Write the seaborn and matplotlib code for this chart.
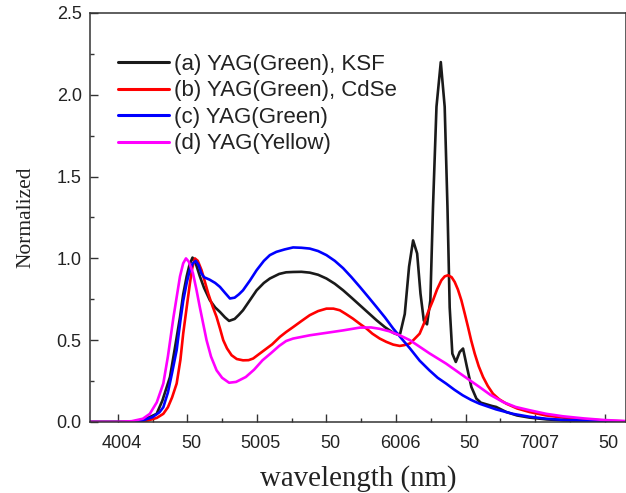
import numpy as np
import pandas as pd
import matplotlib
matplotlib.use("Agg")
import matplotlib.pyplot as plt
import matplotlib.transforms as mtransforms
import seaborn as sns
from matplotlib.ticker import MultipleLocator

# ---------------- data ----------------
labels = ["(a) YAG(Green), KSF", "(b) YAG(Green), CdSe", "(c) YAG(Green)", "(d) YAG(Yellow)"]
colors = ["#1a1a1a", "#ff0000", "#0000ff", "#ff00ff"]

x_a = [380, 410, 418, 423, 427.9, 432, 437.5, 441, 444.7, 447, 449.5, 451.5, 453.7, 456, 459, 462, 466.2, 470,
       473.4, 477, 480, 484, 487, 490, 495, 499.8, 505, 509.3, 516, 521, 526, 532, 538, 544, 550, 556, 562, 568,
       574, 580, 586, 592, 598, 601, 603, 606.3, 609.4, 612.3, 615.2, 617.6, 620, 622.3, 624.7, 626.6, 629.1,
       632.2, 635, 637, 638.6, 640.5, 643, 645.8, 648.2, 651, 654.2, 657.8, 661, 665, 669, 672, 676, 679.3, 687,
       696, 708, 720, 740, 765]
y_a = [0, 0, 0.015, 0.03, 0.05, 0.13, 0.275, 0.45, 0.64, 0.78, 0.89, 0.96, 1.005, 0.97, 0.89, 0.82, 0.744, 0.70,
       0.673, 0.64, 0.618, 0.63, 0.655, 0.683, 0.745, 0.805, 0.85, 0.877, 0.905, 0.915, 0.917, 0.918, 0.913, 0.90,
       0.877, 0.845, 0.805, 0.76, 0.714, 0.668, 0.622, 0.58, 0.545, 0.535, 0.54, 0.66, 0.95, 1.11, 1.03, 0.785,
       0.62, 0.597, 0.744, 1.315, 1.927, 2.20, 1.927, 1.315, 0.70, 0.418, 0.367, 0.428, 0.449, 0.336, 0.214,
       0.143, 0.118, 0.108, 0.098, 0.092, 0.075, 0.061, 0.04, 0.027, 0.016, 0.01, 0.005, 0.002]

x_b = [380, 415, 422, 428, 432.7, 436, 439, 442.3, 445, 447, 449.5, 451.8, 453.5, 455.4, 457.5, 460.2, 462.5,
       465, 468, 471, 473.5, 475.8, 478.5, 481.8, 485.5, 490, 494, 497.3, 502, 506.9, 511, 516.5, 521, 526, 532,
       538, 544, 550, 555, 559.6, 564, 569, 574, 578.8, 583, 588.3, 593, 598, 602.7, 606, 610, 613, 617, 620, 623,
       626.6, 629.5, 632.6, 635, 637.4, 640, 642.2, 644.5, 647, 649.5, 651.8, 654, 656.6, 659.5, 662.6, 666,
       669.7, 674, 679.3, 687, 696, 708, 720, 735, 756, 765]
y_b = [0, 0, 0.01, 0.025, 0.05, 0.09, 0.15, 0.235, 0.38, 0.54, 0.70, 0.846, 0.94, 1.0, 0.985, 0.928, 0.86,
       0.785, 0.71, 0.642, 0.57, 0.50, 0.45, 0.408, 0.385, 0.377, 0.378, 0.388, 0.418, 0.449, 0.475, 0.52, 0.55,
       0.58, 0.617, 0.653, 0.678, 0.693, 0.693, 0.683, 0.66, 0.632, 0.60, 0.571, 0.54, 0.51, 0.49, 0.473, 0.465,
       0.47, 0.48, 0.505, 0.54, 0.60, 0.67, 0.744, 0.81, 0.866, 0.89, 0.897, 0.885, 0.856, 0.81, 0.744, 0.66,
       0.58, 0.50, 0.418, 0.34, 0.275, 0.22, 0.173, 0.14, 0.112, 0.083, 0.061, 0.04, 0.027, 0.016, 0.006, 0.004]

x_c = [380, 410, 418, 425, 430, 432.7, 436, 439, 442.3, 445, 447, 449.5, 451.8, 454, 456, 458, 460, 462, 466,
       470, 473.4, 477, 480.6, 484, 487, 490, 495, 499.8, 505, 509.3, 514, 520, 526, 532, 538, 544, 550, 556,
       562, 568, 574, 580, 586, 592, 598, 604, 610, 617, 624, 630, 636, 642, 648, 654, 660, 672, 684, 696, 708,
       720, 744, 765]
y_c = [0, 0, 0.01, 0.03, 0.06, 0.09, 0.18, 0.30, 0.44, 0.62, 0.74, 0.85, 0.93, 0.97, 0.985, 0.96, 0.91, 0.885,
       0.87, 0.85, 0.826, 0.79, 0.755, 0.76, 0.78, 0.805, 0.865, 0.928, 0.985, 1.02, 1.04, 1.055, 1.067, 1.065,
       1.06, 1.045, 1.02, 0.985, 0.94, 0.885, 0.826, 0.765, 0.703, 0.64, 0.571, 0.51, 0.45, 0.375, 0.316, 0.27,
       0.235, 0.197, 0.163, 0.135, 0.112, 0.077, 0.05, 0.032, 0.02, 0.013, 0.006, 0.003]

x_d = [380, 400, 410, 418, 423, 428, 432.7, 436, 440, 444.7, 447, 449, 451, 454, 456.5, 459, 463.8, 467, 471,
       475, 480, 485, 492, 498, 504, 510, 516, 521, 526, 538, 550, 562, 574, 582, 588, 595, 602.7, 610, 617, 624,
       636, 648, 660, 668, 677, 686, 696, 708, 720, 735, 750, 765]
y_d = [0, 0, 0.005, 0.02, 0.05, 0.12, 0.235, 0.40, 0.64, 0.89, 0.97, 1.0, 0.98, 0.91, 0.81, 0.70, 0.50, 0.40,
       0.316, 0.27, 0.24, 0.245, 0.275, 0.32, 0.377, 0.42, 0.465, 0.495, 0.51, 0.53, 0.545, 0.56, 0.577, 0.578,
       0.57, 0.555, 0.53, 0.50, 0.46, 0.42, 0.357, 0.285, 0.214, 0.165, 0.122, 0.092, 0.072, 0.05, 0.035, 0.022,
       0.012, 0.006]

xtick_pos = [400, 450, 500, 550, 600, 650, 700, 750]
xtick_labels = ["4004", "50", "5005", "50", "6006", "50", "7007", "50"]
ytick_pos = [0.0, 0.5, 1.0, 1.5, 2.0, 2.5]

# ---------------- build long table ----------------
frames = []
for lab, xs, ys in zip(labels, [x_a, x_b, x_c, x_d], [y_a, y_b, y_c, y_d]):
    frames.append(pd.DataFrame({"wavelength": xs, "value": ys, "series": lab}))
df = pd.concat(frames, ignore_index=True)

sns.set_theme(style="white")
plt.rcParams["font.family"] = ["Liberation Sans", "DejaVu Sans"]

fig = plt.figure(figsize=(6.26, 4.93), dpi=100)
ax = fig.add_axes([90 / 626, 71 / 493, 535.5 / 626, 409 / 493])

sns.lineplot(data=df, x="wavelength", y="value", hue="series", hue_order=labels,
             palette=colors, linewidth=1.9, ax=ax, estimator=None, sort=False)

ax.set_xlim(380, 765)
ax.set_ylim(0, 2.5)
ax.set_xticks(xtick_pos)
ax.set_xticklabels(xtick_labels)
ax.xaxis.set_minor_locator(MultipleLocator(25))
ax.set_yticks(ytick_pos)
ax.set_yticklabels([f"{v:.1f}" for v in ytick_pos])
ax.yaxis.set_minor_locator(MultipleLocator(0.25))

ax.tick_params(axis="both", which="major", direction="in", length=5.8, width=1.0,
               colors="#333333", labelsize=13, labelcolor="#222222")
ax.tick_params(axis="x", which="major", pad=9)
ax.tick_params(axis="y", which="major", pad=6)
ax.tick_params(axis="both", which="minor", direction="in", length=3.2, width=1.0, colors="#333333")
ax.tick_params(bottom=True, left=True, top=False, right=False)
ax.tick_params(which="minor", bottom=True, left=True, top=False, right=False)

# the reference's x tick labels sit slightly right of their ticks
offset = mtransforms.ScaledTranslation(4 / 100, 0, fig.dpi_scale_trans)
for lbl in ax.get_xticklabels():
    lbl.set_transform(lbl.get_transform() + offset)

for s in ax.spines.values():
    s.set_color("#333333")
    s.set_linewidth(1.1)

ax.set_xlabel("wavelength (nm)", family=["Liberation Serif", "DejaVu Serif"], fontsize=20.8,
              color="#222222", labelpad=10)
ax.set_ylabel("Normalized", family=["Liberation Serif", "DejaVu Serif"], fontsize=15.5,
              color="#222222", labelpad=15)

leg = ax.legend(loc="upper left", bbox_to_anchor=(0.035, 0.922), frameon=False, fontsize=16,
                handlelength=2.3, handletextpad=0.25, labelspacing=0.25, borderaxespad=0)
for t in leg.get_texts():
    t.set_color("#222222")
for h in leg.get_lines():
    h.set_linewidth(2.2)

fig.savefig("out.png", dpi=100)
